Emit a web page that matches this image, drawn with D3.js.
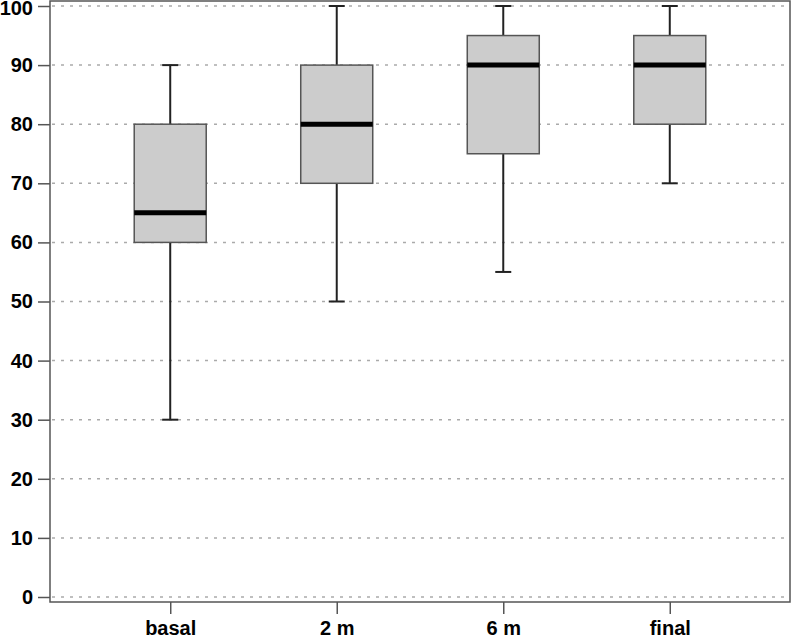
<!DOCTYPE html>
<html><head><meta charset="utf-8">
<script src="https://cdn.jsdelivr.net/npm/d3@7"></script>
<style>body{margin:0;background:#fff}svg{display:block}</style>
</head><body>
<svg id="c" width="792" height="640"></svg>
<script>
const categories = ["basal", "2 m", "6 m", "final"];
const mins    = [30, 50, 55, 70];
const q1s     = [60, 70, 75, 80];
const medians = [65, 80, 90, 90];
const q3s     = [80, 90, 95, 95];
const maxs    = [90, 100, 100, 100];
const yTicks  = [0, 10, 20, 30, 40, 50, 60, 70, 80, 90, 100];

const svg = d3.select("#c");
const L = 50, R = 790, T = 1, B = 602;
const x = d3.scalePoint().domain(categories).range([L, R]).padding(0.722);
const y = d3.scaleLinear().domain([0, 100]).range([597, 6]);
const font = "Liberation Sans, Arial, sans-serif";

// grid
svg.append("g").selectAll("line").data(yTicks).join("line")
  .attr("x1", L + 2).attr("x2", R - 1)
  .attr("y1", d => y(d)).attr("y2", d => y(d))
  .attr("stroke", "#aaa").attr("stroke-width", 1.5).attr("stroke-dasharray", "3,6");

// frame
svg.append("rect").attr("x", L).attr("y", T).attr("width", R - L).attr("height", B - T)
  .attr("fill", "none").attr("stroke", "#555").attr("stroke-width", 1.5);

// axes
const ya = svg.append("g").attr("transform", `translate(${L},0)`)
  .call(d3.axisLeft(y).tickValues(yTicks).tickSize(12).tickPadding(5));
ya.select(".domain").remove();
ya.selectAll(".tick line").attr("stroke", "#555").attr("stroke-width", 1.5);
ya.selectAll(".tick text").attr("font-family", font)
  .attr("font-weight", "bold").attr("font-size", 20).attr("fill", "#000")
  .attr("y", d => Math.max(0, 14.5 - 6.4 - y(d)));

const xa = svg.append("g").attr("transform", `translate(0,${B})`)
  .call(d3.axisBottom(x).tickSize(12).tickPadding(7));
xa.select(".domain").remove();
xa.selectAll(".tick line").attr("stroke", "#555").attr("stroke-width", 1.5);
xa.selectAll(".tick text").attr("font-family", font)
  .attr("font-weight", "bold").attr("font-size", 20).attr("fill", "#000");

// boxes
const data = categories.map((c, i) => ({c, min: mins[i], q1: q1s[i], med: medians[i], q3: q3s[i], max: maxs[i]}));
const bw = 72, cw = 16;
const g = svg.append("g").selectAll("g").data(data).join("g");
g.append("line").attr("x1", d => x(d.c)).attr("x2", d => x(d.c))
  .attr("y1", d => y(d.q3)).attr("y2", d => y(d.max)).attr("stroke", "#222").attr("stroke-width", 2);
g.append("line").attr("x1", d => x(d.c)).attr("x2", d => x(d.c))
  .attr("y1", d => y(d.q1)).attr("y2", d => y(d.min)).attr("stroke", "#222").attr("stroke-width", 2);
g.append("line").attr("x1", d => x(d.c) - cw / 2).attr("x2", d => x(d.c) + cw / 2)
  .attr("y1", d => y(d.max)).attr("y2", d => y(d.max)).attr("stroke", "#222").attr("stroke-width", 2);
g.append("line").attr("x1", d => x(d.c) - cw / 2).attr("x2", d => x(d.c) + cw / 2)
  .attr("y1", d => y(d.min)).attr("y2", d => y(d.min)).attr("stroke", "#222").attr("stroke-width", 2);
g.append("rect").attr("x", d => x(d.c) - bw / 2).attr("width", bw)
  .attr("y", d => y(d.q3)).attr("height", d => y(d.q1) - y(d.q3))
  .attr("fill", "#cccccc").attr("stroke", "#555").attr("stroke-width", 1.5);
g.append("line").attr("x1", d => x(d.c) - bw / 2).attr("x2", d => x(d.c) + bw / 2)
  .attr("y1", d => y(d.med)).attr("y2", d => y(d.med)).attr("stroke", "#000").attr("stroke-width", 5);
</script>
</body></html>
